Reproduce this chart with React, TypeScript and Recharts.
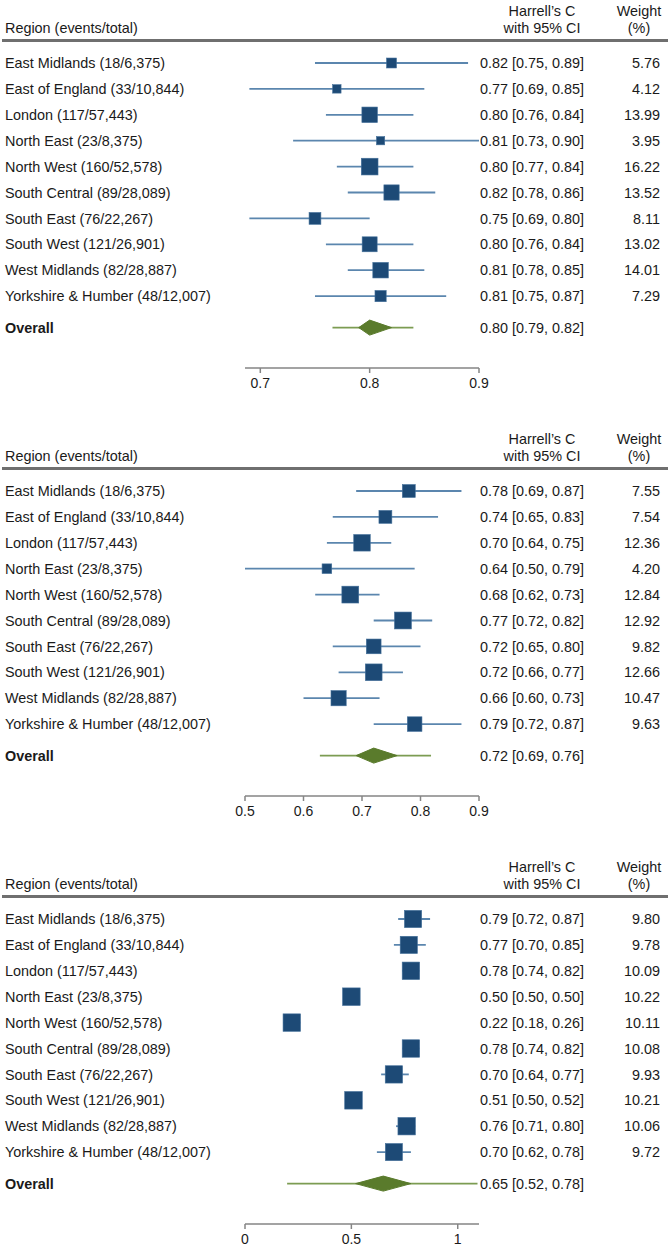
import React from 'react'
import { ScatterChart, Scatter, XAxis, YAxis, ErrorBar } from 'recharts'

const FONT = '"Liberation Sans", Arial, Helvetica, sans-serif'
const TEXT = '#1a1a1a'

const regions = [
  'East Midlands (18/6,375)',
  'East of England (33/10,844)',
  'London (117/57,443)',
  'North East (23/8,375)',
  'North West (160/52,578)',
  'South Central (89/28,089)',
  'South East (76/22,267)',
  'South West (121/26,901)',
  'West Midlands (82/28,887)',
  'Yorkshire & Humber (48/12,007)',
]

// panel 1
const p1Est = [0.82, 0.77, 0.8, 0.81, 0.8, 0.82, 0.75, 0.8, 0.81, 0.81]
const p1Lo = [0.75, 0.69, 0.76, 0.73, 0.77, 0.78, 0.69, 0.76, 0.78, 0.75]
const p1Hi = [0.89, 0.85, 0.84, 0.9, 0.84, 0.86, 0.8, 0.84, 0.85, 0.87]
const p1W = [5.76, 4.12, 13.99, 3.95, 16.22, 13.52, 8.11, 13.02, 14.01, 7.29]
const p1Overall = [0.8, 0.79, 0.82]
const p1Pred = [0.766, 0.84]
const p1Ticks = [0.7, 0.8, 0.9]

// panel 2
const p2Est = [0.78, 0.74, 0.7, 0.64, 0.68, 0.77, 0.72, 0.72, 0.66, 0.79]
const p2Lo = [0.69, 0.65, 0.64, 0.5, 0.62, 0.72, 0.65, 0.66, 0.6, 0.72]
const p2Hi = [0.87, 0.83, 0.75, 0.79, 0.73, 0.82, 0.8, 0.77, 0.73, 0.87]
const p2W = [7.55, 7.54, 12.36, 4.2, 12.84, 12.92, 9.82, 12.66, 10.47, 9.63]
const p2Overall = [0.72, 0.69, 0.76]
const p2Pred = [0.628, 0.818]
const p2Ticks = [0.5, 0.6, 0.7, 0.8, 0.9]

// panel 3
const p3Est = [0.79, 0.77, 0.78, 0.5, 0.22, 0.78, 0.7, 0.51, 0.76, 0.7]
const p3Lo = [0.72, 0.7, 0.74, 0.5, 0.18, 0.74, 0.64, 0.5, 0.71, 0.62]
const p3Hi = [0.87, 0.85, 0.82, 0.5, 0.26, 0.82, 0.77, 0.52, 0.8, 0.78]
const p3W = [9.8, 9.78, 10.09, 10.22, 10.11, 10.08, 9.93, 10.21, 10.06, 9.72]
const p3Overall = [0.65, 0.52, 0.78]
const p3Pred = [0.198, 1.093]
const p3Ticks = [0, 0.5, 1]

type Panel = {
  est: number[]
  lo: number[]
  hi: number[]
  w: number[]
  overall: number[]
  pred: number[]
  ticks: number[]
  domain: [number, number]
  box: number
}

const panels: Panel[] = [
  { est: p1Est, lo: p1Lo, hi: p1Hi, w: p1W, overall: p1Overall, pred: p1Pred, ticks: p1Ticks, domain: [0.686, 0.9], box: 4.15 },
  { est: p2Est, lo: p2Lo, hi: p2Hi, w: p2W, overall: p2Overall, pred: p2Pred, ticks: p2Ticks, domain: [0.5, 0.9], box: 4.7 },
  { est: p3Est, lo: p3Lo, hi: p3Hi, w: p3W, overall: p3Overall, pred: p3Pred, ticks: p3Ticks, domain: [0, 1.1], box: 5.5 },
]

const ROW = 25.9
const OVERALL_Y = 9 + 31.5 / ROW
const rowTicks = [...regions.map((_, i) => i), OVERALL_Y]
const PLOT_H = 328
const yDomain: [number, number] = [-23 / ROW, (PLOT_H - 23) / ROW]

const f2 = (v: number) => v.toFixed(2)

function Header({ top }: { top: number }) {
  const base: React.CSSProperties = {
    position: 'absolute',
    fontFamily: FONT,
    fontSize: 14.4,
    lineHeight: '16px',
    color: TEXT,
    whiteSpace: 'nowrap',
  }
  return (
    <>
      <div style={{ ...base, top: top - 20, left: 5 }}>Region (events/total)</div>
      <div style={{ ...base, top: top - 37, left: 492, width: 100, textAlign: 'center' }}>Harrell’s C</div>
      <div style={{ ...base, top: top - 20, left: 492, width: 100, textAlign: 'center' }}>with 95% CI</div>
      <div style={{ ...base, top: top - 37, left: 604, width: 70, textAlign: 'center' }}>Weight</div>
      <div style={{ ...base, top: top - 20, left: 604, width: 70, textAlign: 'center' }}>(%)</div>
      <div style={{ position: 'absolute', top: top - 1, left: 2, width: 666, height: 2.5, background: '#6f6f6f' }} />
    </>
  )
}

function ForestPanel({ p, top }: { p: Panel; top: number }) {
  const studies = regions.map((_, i) => ({
    x: p.est[i],
    y: i,
    w: p.w[i],
    err: [p.est[i] - p.lo[i], p.hi[i] - p.est[i]],
  }))
  const [oe, olo, ohi] = p.overall
  const half = 0.29
  const diamond = [
    { x: olo, y: OVERALL_Y },
    { x: oe, y: OVERALL_Y - half },
    { x: ohi, y: OVERALL_Y },
    { x: oe, y: OVERALL_Y + half },
    { x: olo, y: OVERALL_Y },
  ]
  const pred = [
    { x: p.pred[0], y: OVERALL_Y },
    { x: p.pred[1], y: OVERALL_Y },
  ]

  const leftTick = (props: any) => {
    const { y, payload } = props
    const i = rowTicks.indexOf(payload.value)
    const isOverall = i === regions.length
    return (
      <text x={5} y={y} dy="0.36em" fontFamily={FONT} fontSize={14.4} fill={TEXT} fontWeight={isOverall ? 'bold' : 'normal'} textAnchor="start">
        {isOverall ? 'Overall' : regions[i]}
      </text>
    )
  }

  const rightTick = (props: any) => {
    const { y, payload } = props
    const i = rowTicks.indexOf(payload.value)
    const isOverall = i === regions.length
    const ci = isOverall
      ? `${f2(oe)} [${f2(olo)}, ${f2(ohi)}]`
      : `${f2(p.est[i])} [${f2(p.lo[i])}, ${f2(p.hi[i])}]`
    return (
      <g>
        <text x={480} y={y} dy="0.36em" fontFamily={FONT} fontSize={14.4} fill={TEXT} textAnchor="start">
          {ci}
        </text>
        {!isOverall && (
          <text x={660} y={y} dy="0.36em" fontFamily={FONT} fontSize={14.4} fill={TEXT} textAnchor="end">
            {f2(p.w[i])}
          </text>
        )}
      </g>
    )
  }

  return (
    <div style={{ position: 'absolute', top: top - 10, left: 0 }}>
      <ScatterChart width={670} height={10 + PLOT_H + 30} margin={{ top: 10, right: 0, bottom: 0, left: 0 }}>
        <XAxis
          type="number"
          dataKey="x"
          domain={p.domain}
          allowDataOverflow
          ticks={p.ticks}
          interval={0}
          height={30}
          stroke="#858585"
          strokeWidth={1.5}
          tickSize={5}
          tickMargin={5}
          tick={{ fontSize: 14, fill: TEXT, fontFamily: FONT }}
          tickFormatter={(v: number) => String(v)}
        />
        <YAxis
          yAxisId="l"
          type="number"
          dataKey="y"
          orientation="left"
          reversed
          domain={yDomain}
          allowDataOverflow
          ticks={rowTicks}
          interval={0}
          width={245}
          axisLine={false}
          tickLine={false}
          tick={leftTick}
        />
        <YAxis
          yAxisId="r"
          type="number"
          dataKey="y"
          orientation="right"
          reversed
          domain={yDomain}
          allowDataOverflow
          ticks={rowTicks}
          interval={0}
          width={191}
          axisLine={false}
          tickLine={false}
          tick={rightTick}
        />
        <Scatter yAxisId="l" data={studies} isAnimationActive={false} shape={() => <g />}>
          <ErrorBar dataKey="err" direction="x" width={0} stroke="#5b86ae" strokeWidth={1.8} isAnimationActive={false} />
        </Scatter>
        <Scatter
          yAxisId="l"
          data={studies}
          isAnimationActive={false}
          shape={(props: any) => {
            const { cx, cy, payload } = props
            const s = p.box * Math.sqrt(payload.w)
            return <rect x={cx - s / 2} y={cy - s / 2} width={s} height={s} fill="#1d4a76" stroke="#44709a" strokeWidth={0.6} />
          }}
        />
        <Scatter
          yAxisId="l"
          data={pred}
          isAnimationActive={false}
          line={{ stroke: '#7c9c52', strokeWidth: 1.8 }}
          shape={() => <g />}
        />
        <Scatter
          yAxisId="l"
          data={diamond}
          isAnimationActive={false}
          line={{ stroke: '#5a7b2c', fill: '#5a7b2c', strokeWidth: 1 }}
          shape={() => <g />}
        />
      </ScatterChart>
    </div>
  )
}

const panelTops = [40, 468, 896]

export default function App() {
  return (
    <div style={{ position: 'absolute', left: 0, top: 0, width: 670, height: 1252, background: '#fff', overflow: 'hidden' }}>
      {panels.map((p, k) => (
        <React.Fragment key={k}>
          <Header top={panelTops[k]} />
          <ForestPanel p={p} top={panelTops[k]} />
        </React.Fragment>
      ))}
    </div>
  )
}
